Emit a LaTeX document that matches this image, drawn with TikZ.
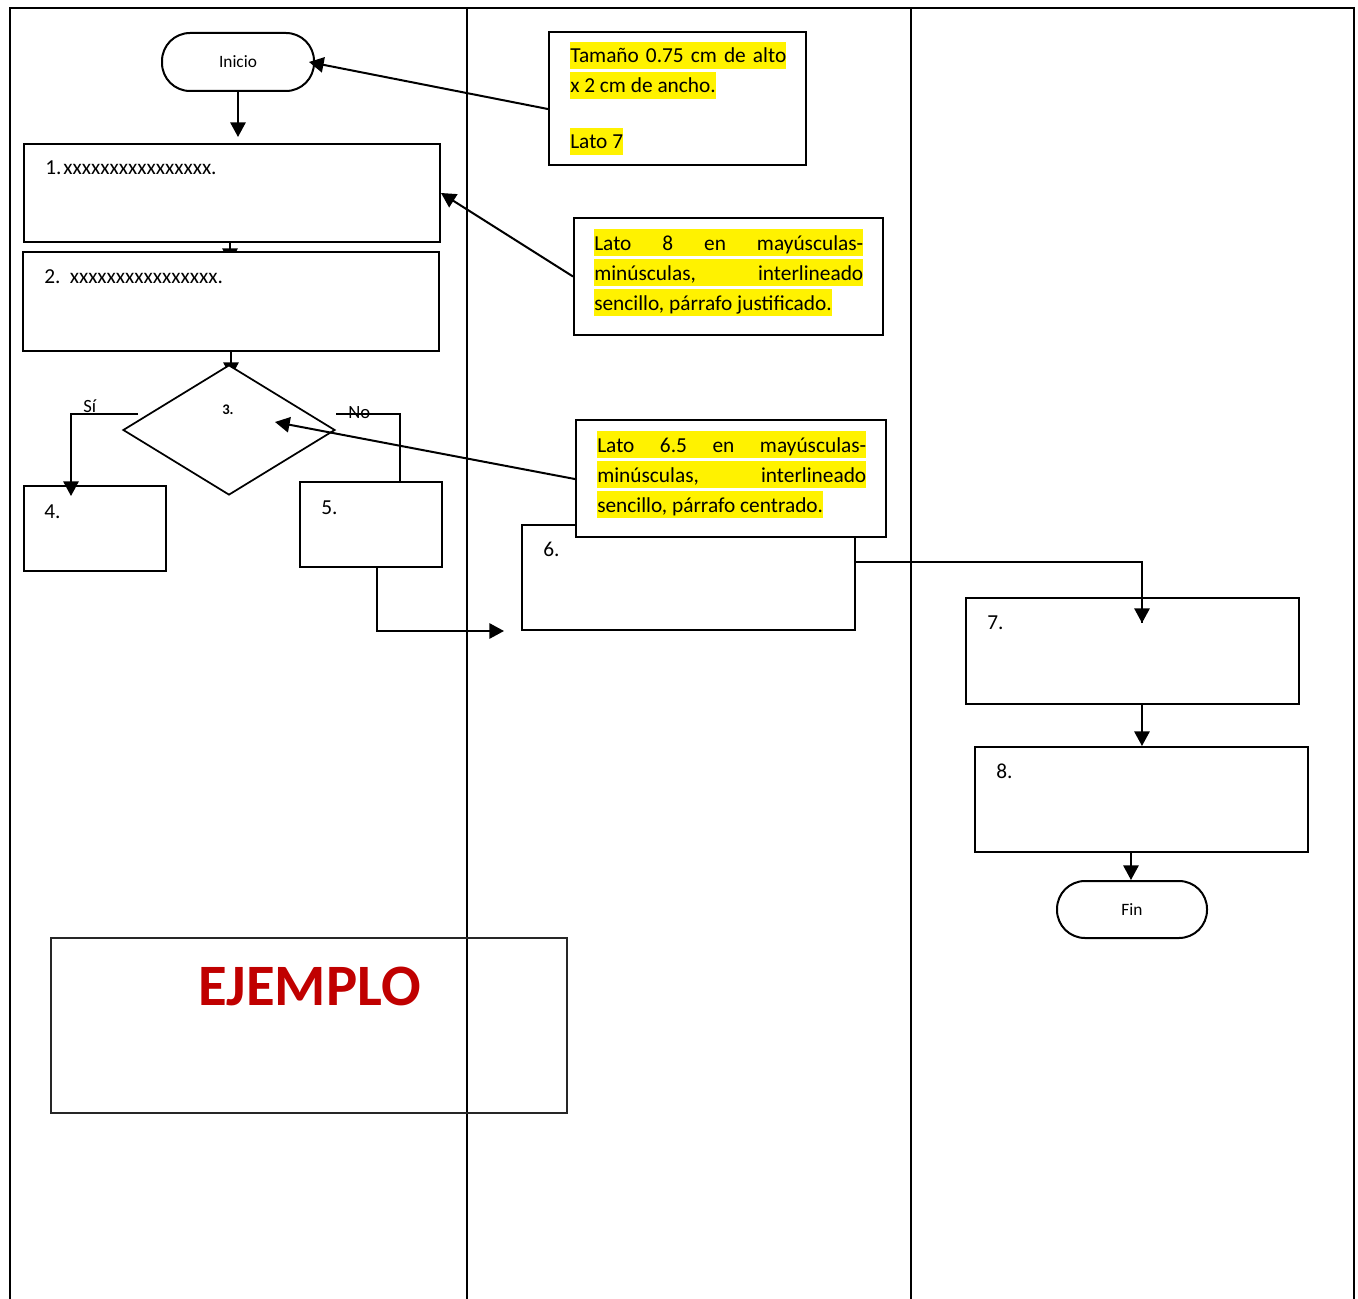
\documentclass[tikz,border=0pt]{standalone}
\usepackage{fontspec}
\setmainfont{Carlito}
\usetikzlibrary{arrows.meta,shapes.geometric,backgrounds}
\definecolor{ejred}{HTML}{C00000}
\begin{document}
\begin{tikzpicture}[x=0.75pt,y=-0.75pt,
  box/.style={draw, line width=1.5pt, fill=white, inner sep=0pt},
  term/.style={box, rounded corners=21pt, font=\fontsize{13}{15}\selectfont},
  notebox/.style={box, line width=1.5pt},
  lbl/.style={anchor=base west, inner sep=0pt, font=\fontsize{16}{19}\selectfont},
  hl/.style={fill=yellow, inner sep=0pt, text height=15.75pt, text depth=4.5pt, anchor=base west, font=\fontsize{16}{19}\selectfont},
  arr/.style={line width=1.5pt, -{Triangle[length=11pt,width=11.5pt]}},
  plain/.style={line width=1.5pt},
  frame/.style={line width=1.5pt}]
\useasboundingbox (0,0) rectangle (1358,1298);

% table frame
\draw[frame] (10,1300) -- (10,8) -- (1354,8) -- (1354,1300);
\draw[frame] (467,8) -- (467,1300);
\draw[frame] (911,8) -- (911,1300);

% flow nodes
\node[term, minimum width=114pt, minimum height=43.5pt] (inicio) at (238,62) {Inicio};
\node[box, minimum width=312pt, minimum height=73.5pt] (b1) at (232,193) {};
\node[box, minimum width=312pt, minimum height=74.25pt] (b2) at (231,301.5) {};
\node[box, diamond, minimum width=159pt, minimum height=97.5pt, line width=1.3pt] (dia) at (229,430) {};
\node[box, minimum width=106.5pt, minimum height=63.75pt] (b4) at (95,528.5) {};
\node[box, minimum width=106.5pt, minimum height=63.75pt] (b5) at (371,524.5) {};
\node[box, minimum width=249.75pt, minimum height=78.75pt] (b6) at (688.5,577.5) {};
\node[box, minimum width=249.75pt, minimum height=79.5pt] (b7) at (1132.5,651) {};
\node[box, minimum width=249.75pt, minimum height=78.75pt] (b8) at (1141.5,799.5) {};
\node[term, minimum width=112.5pt, minimum height=42.75pt] (fin) at (1132,909.5) {Fin};
\node[draw=black!85, line width=1pt, minimum width=387pt, minimum height=131.25pt, inner sep=0pt] (ej) at (309,1025.5) {};

% labels in boxes
\node[lbl] (t1) at (45,175) {1.\hspace{1.5pt}xxxxxxxxxxxxxxxx.};
\node[lbl] (t2) at (44,283) {2.\hspace{7pt}xxxxxxxxxxxxxxxx.};
\node[anchor=base west, inner sep=0pt, font=\fontsize{11}{13}\selectfont\bfseries] (t3) at (222,414) {3.};
\node[lbl] (t4) at (44,518) {4.};
\node[lbl] (t5) at (321,514) {5.};
\node[lbl] (t6) at (543,556) {6.};
\node[lbl] (t7) at (987,629) {7.};
\node[lbl] (t8) at (996,778) {8.};
\node[anchor=base west, inner sep=0pt, font=\fontsize{14}{16}\selectfont] (si) at (83,412) {Sí};
\node[anchor=base west, inner sep=0pt, font=\fontsize{14}{16}\selectfont] (no) at (348,418) {No};
\node[anchor=base west, inner sep=0pt, text=ejred, font=\fontsize{44}{50}\selectfont\bfseries] (ejt) at (198,1005) {EJEMPLO};

% connectors below boxes
\coordinate (c12) at (230,217);
\coordinate (t12) at (230,263);
\coordinate (c23) at (231,330);
\coordinate (t23) at (231,377);
\coordinate (si1) at (138,414);
\coordinate (t4a) at (71,496);
\coordinate (no1) at (336,414);
\begin{pgfonlayer}{background}
\draw[arr] (c12) -- (t12);
\draw[arr] (c23) -- (t23);
\end{pgfonlayer}
\draw[arr, shorten >=4.5pt] (inicio.south) -- (inicio.south |- b1.north);
\draw[arr] (si1) -| (t4a);
\draw[plain] (no1) -| ([xshift=21.75pt]b5.north);
\draw[arr] ([xshift=4.5pt]b5.south) |- ([xshift=-12.75pt]b6.south west);
\coordinate (t67) at (1142,623);
\draw[arr] ([xshift=7.1pt]b7.south) -- ([xshift=7.1pt]b7.south |- b8.north);
\draw[arr] ([xshift=-7.9pt]b8.south) -- ([xshift=-7.9pt]b8.south |- fin.north);

% note 1
\node[notebox, minimum width=192.75pt, minimum height=99.75pt] (n1) at (677.5,98.5) {};
\node[hl] (n1a) at (570,63) {\makebox[162pt][s]{Tamaño 0.75 cm de alto}};
\node[hl] (n1b) at (570,93) {x 2 cm de ancho.};
\node[hl] (n1c) at (570,149) {Lato 7};
% note 2
\node[notebox, minimum width=231.75pt, minimum height=87.75pt] (n2) at (728.5,276.5) {};
\node[hl] (n2a) at (594,250) {\makebox[201.75pt][s]{Lato 8 en mayúsculas-}};
\node[hl] (n2b) at (594,280) {\makebox[201.75pt][s]{minúsculas, interlineado}};
\node[hl] (n2c) at (594,310) {sencillo, párrafo justificado.};
% note 3 (over box 6)
\node[notebox, minimum width=232.5pt, minimum height=87.75pt] (n3) at (731,478.5) {};
\node[hl] (n3a) at (597,452) {\makebox[201.75pt][s]{Lato 6.5 en mayúsculas-}};
\node[hl] (n3b) at (597,482) {\makebox[201.75pt][s]{minúsculas, interlineado}};
\node[hl] (n3c) at (597,512) {sencillo, párrafo centrado.};

% connector 6 -> 7
\draw[line width=1pt] ([yshift=11.6pt]b6.east) -| (t67);
\draw[arr] (1142,600) -- (t67);

% note arrows
\draw[arr] ([yshift=-7.9pt]n1.west) -- ([xshift=-4.5pt]inicio.east);
\draw[arr] (n2.west) -- (b1.east);
\draw[arr] ([yshift=-0.4pt]n3.west) -- ([shift={(34.5pt,6pt)}]dia.center);
\end{tikzpicture}
\end{document}
